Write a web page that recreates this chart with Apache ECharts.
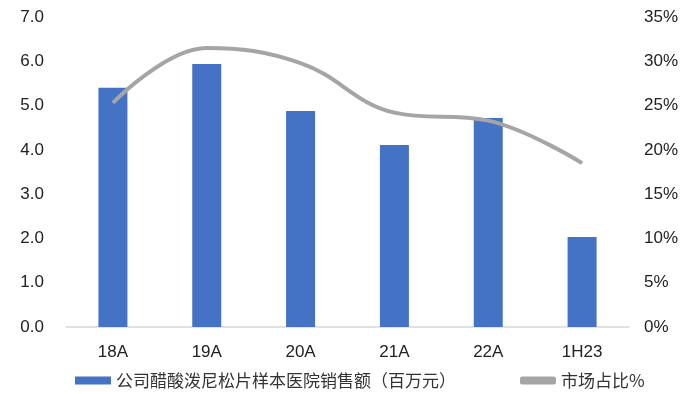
<!DOCTYPE html>
<html>
<head>
<meta charset="utf-8">
<script src="https://cdn.jsdelivr.net/npm/echarts@6/dist/echarts.min.js"></script>
<style>
html,body{margin:0;padding:0;background:#fff;}
#main{width:683px;height:394px;}
</style>
</head>
<body>
<div id="main"></div>
<script>
// data
var categories = ['18A', '19A', '20A', '21A', '22A', '1H23'];
var salesValues = [5.40, 5.94, 4.88, 4.11, 4.72, 2.03];
var shareValues = [25.3, 31.5, 29.8, 24.2, 23.3, 18.5];
var barName = '公司醋酸泼尼松片样本医院销售额（百万元）';
var lineName = '市场占比%';

var chartDom = document.getElementById('main');
var myChart = echarts.init(chartDom);

var labelFont = { color: '#222', fontSize: 17, fontFamily: 'Liberation Sans, Arial, sans-serif' };

var option = {
    animation: false,
    backgroundColor: '#fff',
    grid: { left: 66, right: 54, top: 17, bottom: 67 },
    legend: {
        bottom: 0,
        left: 70,
        itemGap: 64,
        itemWidth: 36,
        itemHeight: 8,
        textStyle: { color: '#333', fontSize: 17, fontFamily: 'Noto Sans CJK SC' },
        data: [
            { name: barName, icon: 'rect' },
            { name: lineName, icon: 'roundRect', itemStyle: { color: '#A5A5A5' } }
        ]
    },
    xAxis: {
        type: 'category',
        data: categories,
        axisLine: { lineStyle: { color: '#D9D9D9', width: 1.5 } },
        axisTick: { show: false },
        axisLabel: Object.assign({ margin: 17 }, labelFont)
    },
    yAxis: [
        {
            type: 'value',
            min: 0, max: 7, interval: 1,
            splitLine: { show: false },
            axisLine: { show: false },
            axisTick: { show: false },
            axisLabel: Object.assign({ margin: 22, formatter: function (v) { return v.toFixed(1); } }, labelFont)
        },
        {
            type: 'value',
            min: 0, max: 35, interval: 5,
            splitLine: { show: false },
            axisLine: { show: false },
            axisTick: { show: false },
            axisLabel: Object.assign({ margin: 15, formatter: '{value}%' }, labelFont)
        }
    ],
    series: [
        {
            name: barName,
            type: 'bar',
            data: salesValues,
            barWidth: 29,
            itemStyle: { color: '#4472C4' }
        },
        {
            name: lineName,
            type: 'line',
            yAxisIndex: 1,
            data: shareValues,
            smooth: 0.4,
            symbol: 'none',
            lineStyle: { color: '#A5A5A5', width: 4 },
            itemStyle: { color: '#A5A5A5' }
        }
    ]
};
myChart.setOption(option);
</script>
</body>
</html>
